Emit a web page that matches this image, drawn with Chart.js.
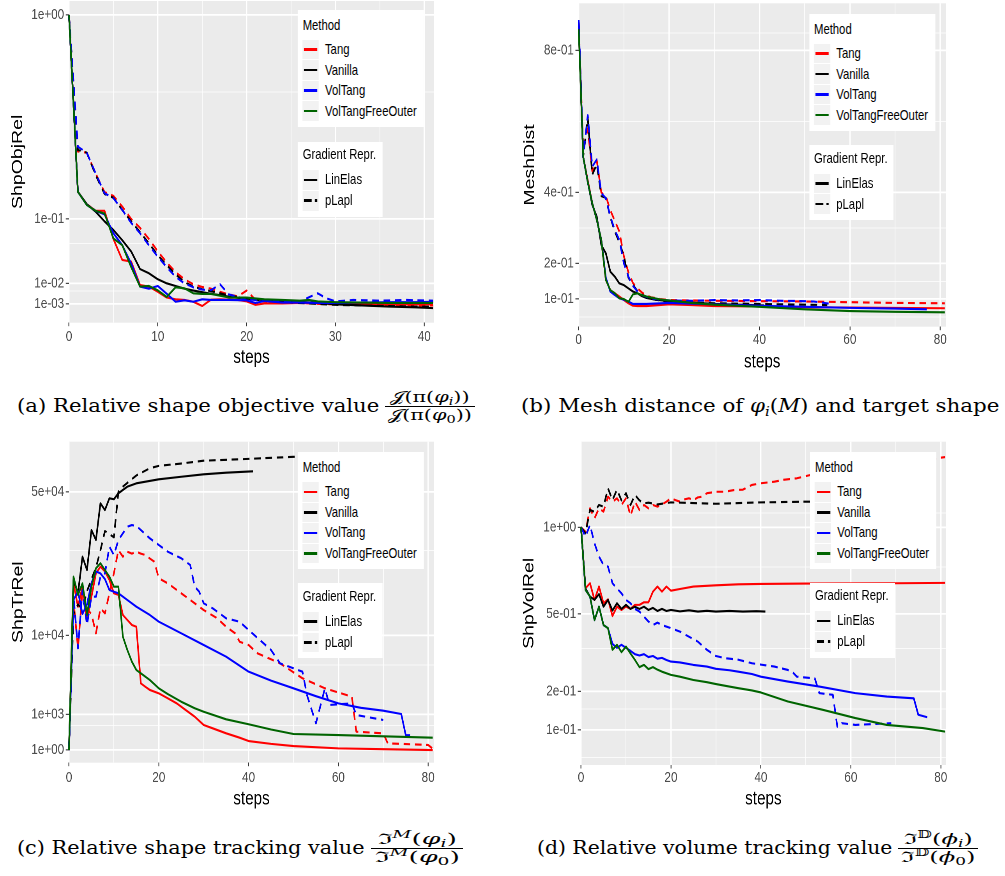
<!DOCTYPE html>
<html><head><meta charset="utf-8">
<script src="https://cdn.jsdelivr.net/npm/chart.js@4"></script>
<style>
body{margin:0;background:#fff;width:1005px;height:876px;overflow:hidden;position:relative;font-family:"Liberation Sans",Arial,sans-serif}
.panel{position:absolute;transform-origin:0 0}
.panel canvas{position:absolute;left:0;top:0}
.leg{position:absolute;background:#fff}
.lt{position:absolute;font-size:14.5px;color:#000;white-space:nowrap;line-height:17px;height:17px}
.key{position:absolute;background:#f2f2f2}
.kl{position:absolute;height:2.6px}
.cap{position:absolute;font-family:"DejaVu Serif","Liberation Serif",serif;font-size:18px;line-height:22px;white-space:nowrap;color:#000;transform-origin:0 50%}
.frac{position:absolute;font-family:"DejaVu Serif","Liberation Serif",serif;text-align:center;font-size:14.5px;line-height:17px;white-space:nowrap;transform-origin:0 50%}
.frac .n{display:block;border-bottom:1px solid #000;padding:0 2px}
.frac .d{display:block;padding:0 2px}
sub{font-size:70%;vertical-align:-0.3em;line-height:0}
sup{font-size:70%;vertical-align:0.55em;line-height:0}
</style></head><body>
<div class="cap" data-w="362" style="left:17px;top:395px">(a) Relative shape objective value</div>
<div class="frac" data-w="90" style="left:385px;top:388.5px"><span class="n">𝒥(π(<i>φ</i><sub><i>i</i></sub>))</span><span class="d">𝒥(π(<i>φ</i><sub>0</sub>))</span></div>
<div class="cap" data-w="479" style="left:521px;top:395px">(b) Mesh distance of <i>φ</i><sub><i>i</i></sub>(<i>M</i>) and target shape</div>
<div class="cap" data-w="348" style="left:17px;top:837px">(c) Relative shape tracking value</div>
<div class="frac" data-w="92" style="left:371px;top:830.5px"><span class="n">ℑ<sup><i>M</i></sup>(<i>φ</i><sub><i>i</i></sub>)</span><span class="d">ℑ<sup><i>M</i></sup>(<i>φ</i><sub>0</sub>)</span></div>
<div class="cap" data-w="355" style="left:537px;top:837px">(d) Relative volume tracking value</div>
<div class="frac" data-w="80" style="left:898px;top:830.5px"><span class="n">ℑ<sup>𝔻</sup>(<i>ϕ</i><sub><i>i</i></sub>)</span><span class="d">ℑ<sup>𝔻</sup>(<i>ϕ</i><sub>0</sub>)</span></div>
<script>
// ---------- categories ----------
const methods = ['Tang','Vanilla','VolTang','VolTangFreeOuter'];
const methodColors = ['#FF0000','#000000','#0000FF','#006400'];
const reprs = ['LinElas','pLapl'];

// ---------- Panel (a): ShpObjRel ----------
const obj_tang_lin = [[0,1],[1,.166],[2,.134],[3,.118],[4,.118],[5,.062],[6,.032],[7,.030],[8,.009],[9,.008],[10,.0052],[11,.0028],[12,.0022],[13,.0020],[14,.0015],[15,.0006],[16,.0021],[17,.0022],[18,.0021],[19,.0020],[20,.0016],[21,.0008],[22,.0011],[24,.0011],[26,.0012],[28,.0011],[30,.0010],[33,.0010],[36,.0009],[39,.0009],[41,.0009]];
const obj_van_lin = [[0,1],[1,.166],[2,.134],[3,.116],[4,.095],[5,.078],[6,.060],[7,.043],[8,.022],[9,.018],[10,.013],[11,.0101],[12,.0084],[13,.0068],[14,.0058],[15,.0050],[16,.0043],[17,.0037],[18,.0031],[19,.0027],[20,.0024],[22,.0020],[25,.0016],[28,.0012],[30,.0009],[33,.0007],[36,.0005],[39,.0004],[41,.0003]];
const obj_vol_lin = [[0,1],[1,.166],[2,.132],[3,.118],[4,.110],[5,.072],[6,.052],[7,.028],[8,.008],[9,.0068],[10,.0084],[11,.0043],[12,.0015],[13,.0019],[14,.0015],[15,.0022],[16,.0020],[18,.0020],[20,.0019],[21,.0012],[22,.0017],[24,.0013],[26,.0013],[28,.0012],[30,.0012],[33,.0013],[36,.0014],[39,.0014],[41,.0015]];
const obj_free_lin = [[0,1],[1,.166],[2,.132],[3,.118],[4,.112],[5,.063],[6,.052],[7,.024],[8,.008],[9,.0084],[10,.0059],[11,.0030],[12,.0076],[13,.0070],[14,.0045],[15,.0042],[16,.0042],[17,.0035],[18,.0028],[20,.0028],[22,.0022],[24,.0020],[26,.0018],[27,.0020],[28,.0016],[30,.0014],[33,.0013],[36,.0012],[39,.0012],[41,.0012]];
const obj_tang_pl = [[0,1],[1,.294],[2,.29],[3,.22],[4,.165],[5,.155],[6,.128],[7,.10],[8,.082],[9,.062],[10,.043],[11,.029],[12,.019],[13,.013],[14,.0095],[15,.0078],[16,.0068],[17,.0052],[18,.0040],[19,.0032],[20,.0058],[21,.0020],[22,.0016],[25,.0014],[28,.0010],[30,.0009],[33,.0008],[36,.0008],[39,.0007],[41,.0007]];
const obj_van_pl = [[0,1],[1,.30],[2,.29],[3,.215],[4,.16],[5,.15],[6,.12],[7,.095],[8,.074],[9,.055],[10,.038],[11,.026],[12,.017],[13,.011],[14,.008],[15,.0065],[16,.0055],[17,.0045],[18,.0035],[20,.0025],[22,.0018],[25,.0013],[28,.0010],[30,.0008],[33,.0007],[36,.0006],[39,.0005],[41,.0005]];
const obj_vol_pl = [[0,1],[1,.312],[2,.29],[3,.22],[4,.162],[5,.149],[6,.12],[7,.092],[8,.072],[9,.052],[10,.036],[11,.024],[12,.015],[13,.010],[14,.0076],[15,.0063],[16,.006],[17,.0095],[18,.0040],[19,.0030],[20,.0022],[21,.0020],[22,.0018],[24,.0018],[26,.0016],[28,.0045],[29,.0025],[30,.0016],[32,.0020],[35,.0018],[38,.0020],[41,.0018]];

// ---------- Panel (b): MeshDist ----------
const mesh_tang_lin = [[0,.87],[1,.50],[2,.435],[3,.37],[4,.323],[5,.266],[6,.154],[7,.125],[8,.116],[9,.107],[10,.097],[11,.088],[12,.081],[13,.080],[15,.080],[20,.085],[25,.083],[30,.080],[40,.079],[50,.077],[60,.076],[70,.075],[81,.074]];
const mesh_van_lin = [[0,.87],[1,.50],[2,.43],[3,.365],[4,.332],[5,.252],[6,.229],[7,.177],[8,.163],[9,.144],[10,.139],[11,.130],[12,.121],[13,.116],[14,.108],[15,.103],[17,.098],[20,.094],[25,.090],[30,.086],[35,.084],[41,.082]];
const mesh_vol_lin = [[0,.88],[1,.50],[2,.43],[3,.37],[4,.323],[5,.266],[6,.16],[7,.121],[8,.111],[9,.102],[10,.098],[11,.093],[12,.086],[15,.086],[20,.089],[30,.085],[40,.081],[50,.078],[60,.075],[70,.073],[77,.071]];
const mesh_free_lin = [[0,.86],[1,.50],[2,.43],[3,.37],[4,.323],[5,.266],[6,.154],[7,.125],[8,.116],[9,.102],[10,.100],[11,.092],[12,.113],[13,.116],[14,.111],[15,.107],[16,.104],[18,.099],[20,.096],[25,.089],[30,.084],[40,.078],[50,.071],[60,.066],[70,.064],[81,.0625]];
const mesh_tang_pl = [[0,.88],[1,.52],[2,.58],[3,.46],[4,.49],[5,.40],[6,.39],[7,.35],[8,.32],[9,.29],[10,.22],[11,.175],[12,.145],[13,.13],[14,.118],[15,.11],[16,.105],[18,.10],[20,.097],[30,.095],[40,.094],[50,.093],[60,.091],[70,.089],[81,.088]];
const mesh_van_pl = [[0,.88],[1,.50],[2,.61],[3,.45],[4,.48],[5,.39],[6,.385],[7,.33],[8,.29],[9,.26],[10,.22],[11,.16],[12,.14],[13,.122],[14,.112],[15,.106],[17,.098],[20,.092],[30,.088],[40,.086],[50,.084],[55,.083]];
const mesh_vol_pl = [[0,.886],[1,.50],[2,.618],[3,.473],[4,.493],[5,.398],[6,.384],[7,.332],[8,.294],[9,.266],[10,.20],[11,.163],[12,.137],[13,.121],[14,.111],[15,.106],[16,.102],[18,.098],[20,.096],[25,.095],[30,.097],[35,.096],[40,.097],[45,.095],[50,.094],[52,.093],[56,.086]];

// ---------- Panel (c): ShpTrRel ----------
const tr_tang_lin = [[0,1],[1,20950],[2,15520],[3,20110],[4,12790],[5,17740],[6,23530],[7,25290],[8,24000],[9,21800],[10,18530],[11,18150],[12,13790],[13,12790],[14,11840],[15,11500],[16,3420],[17,3090],[18,2790],[20,2490],[22,2080],[24,1700],[26,1260],[28,885],[30,510],[32,390],[35,238],[38,136],[40,77],[45,40],[50,20],[60,6],[70,3],[81,1]];
const tr_van_lin = [[0,1],[1,21800],[2,18530],[3,28120],[4,24400],[5,36360],[6,33150],[7,45670],[8,43230],[9,47530],[10,47170],[11,49430],[12,50720],[13,52000],[15,53320],[20,54940],[25,55980],[30,56970],[35,57640],[41,58210]];
const tr_vol_lin = [[0,1],[1,17000],[2,19000],[3,14000],[4,16000],[5,21000],[6,24000],[7,23500],[8,22000],[9,19300],[10,18900],[11,18530],[13,16990],[15,15520],[18,13790],[20,12470],[25,10330],[30,8380],[35,6640],[40,4700],[45,3700],[50,2940],[55,2250],[60,1700],[65,1400],[70,1220],[74,1030],[75,195],[76,190]];
const tr_free_lin = [[0,1],[1,22630],[2,18150],[3,20950],[4,13790],[5,20110],[6,24860],[7,26240],[8,24400],[9,22630],[10,20110],[11,20110],[12,9740],[13,7600],[14,5960],[15,4900],[16,4510],[18,3770],[20,2940],[22,2430],[25,1820],[28,1370],[30,1160],[35,756],[40,540],[45,350],[50,220],[60,195],[70,165],[81,135]];
const tr_tang_pl = [[0,1],[1,17000],[2,7870],[3,19300],[4,15000],[5,14000],[6,10330],[7,15180],[8,14130],[9,18530],[10,23530],[11,30080],[12,28120],[13,29580],[14,29000],[15,29580],[16,29000],[17,28600],[18,27600],[19,26690],[20,22210],[22,20950],[25,18530],[28,16260],[30,14810],[33,13130],[35,11510],[37,10330],[38,8910],[40,8380],[42,7120],[47,5740],[52,3950],[57,2940],[63,2210],[64,283],[70,238],[71,46],[80,29],[81,5]];
const tr_van_pl = [[0,1],[1,14000],[2,16000],[3,15000],[4,19000],[5,22000],[6,25000],[7,30000],[8,36000],[9,35000],[10,34000],[11,50000],[12,52000],[13,53500],[14,55000],[15,56500],[16,57500],[18,59500],[20,60500],[25,61500],[30,62700],[40,63500],[50,64400],[55,64700]];
const tr_vol_pl = [[0,1],[1,18000],[2,7870],[3,19300],[4,11840],[5,17740],[6,17740],[7,22600],[8,23500],[9,31080],[10,28600],[11,33150],[12,35280],[13,37440],[14,38000],[15,37700],[16,36360],[18,33670],[20,31600],[22,29580],[25,27660],[27,25760],[28,20110],[29,18900],[30,16260],[32,15180],[35,13130],[38,12460],[40,10920],[45,7610],[47,5740],[52,4700],[53,2350],[55,580],[57,2940],[58,1590],[63,1700],[64,975],[70,724]];

// ---------- Panel (d): ShpVolRel ----------
const vol_tang_lin = [[0,1],[1,.631],[2,.658],[3,.57],[4,.64],[5,.553],[6,.573],[7,.491],[8,.536],[9,.52],[10,.537],[11,.525],[12,.545],[13,.545],[14,.558],[15,.558],[16,.613],[17,.64],[18,.613],[19,.64],[20,.618],[22,.627],[25,.64],[30,.647],[35,.652],[40,.654],[50,.656],[60,.657],[70,.658],[81,.66]];
const vol_van_lin = [[0,1],[1,.63],[2,.587],[3,.57],[4,.60],[5,.536],[6,.57],[7,.517],[8,.553],[9,.525],[10,.545],[11,.525],[12,.536],[13,.525],[14,.536],[15,.52],[16,.53],[17,.515],[18,.525],[19,.515],[20,.52],[22,.513],[24,.518],[26,.512],[28,.516],[30,.512],[33,.515],[36,.512],[39,.514],[41,.512]];
const vol_vol_lin = [[0,1],[1,.622],[2,.587],[3,.472],[4,.536],[5,.449],[6,.435],[7,.368],[8,.352],[9,.364],[10,.352],[11,.34],[12,.327],[13,.322],[14,.327],[15,.316],[16,.32],[17,.31],[18,.313],[19,.305],[20,.299],[22,.296],[25,.287],[28,.281],[30,.273],[33,.268],[35,.263],[38,.255],[40,.246],[46,.23],[53,.214],[61,.194],[68,.184],[74,.179],[75,.135],[77,.129]];
const vol_free_lin = [[0,1],[1,.622],[2,.587],[3,.472],[4,.536],[5,.449],[6,.435],[7,.344],[8,.364],[9,.335],[10,.357],[11,.33],[12,.305],[13,.279],[14,.287],[15,.272],[16,.279],[17,.27],[18,.263],[20,.252],[22,.246],[25,.235],[28,.228],[30,.222],[33,.214],[35,.209],[38,.202],[40,.196],[46,.17],[54,.147],[61,.127],[68,.111],[76,.104],[81,.0965]];
const vol_tang_pl = [[0,1],[1,.97],[2,1.132],[3,1.061],[4,1.132],[5,1.108],[6,1.217],[7,1.18],[8,1.205],[9,1.156],[10,1.205],[11,1.078],[12,1.18],[13,1.12],[14,1.156],[15,1.132],[16,1.156],[17,1.144],[18,1.16],[19,1.18],[20,1.205],[21,1.192],[22,1.18],[23,1.197],[24,1.205],[25,1.192],[26,1.212],[27,1.217],[28,1.243],[29,1.248],[30,1.254],[32,1.254],[34,1.267],[36,1.27],[38,1.306],[40,1.319],[43,1.331],[45,1.346],[48,1.358],[51,1.384],[60,1.43],[70,1.48],[79,1.52],[81,1.53]];
const vol_van_pl = [[0,1],[1,.96],[2,1.12],[3,1.108],[4,1.156],[5,1.144],[6,1.28],[7,1.192],[8,1.27],[9,1.19],[10,1.243],[11,1.156],[12,1.23],[13,1.19],[14,1.168],[15,1.173],[17,1.16],[20,1.175],[25,1.17],[30,1.165],[40,1.175],[50,1.18],[52,1.18]];
const vol_vol_pl = [[0,1],[1,.938],[2,1.016],[3,.895],[4,.812],[5,.762],[6,.752],[7,.658],[8,.63],[9,.604],[10,.57],[11,.553],[12,.525],[13,.512],[14,.488],[15,.465],[16,.449],[17,.46],[18,.449],[20,.435],[22,.42],[24,.398],[26,.377],[28,.344],[30,.32],[32,.312],[35,.306],[38,.293],[40,.288],[43,.281],[46,.269],[47,.262],[48,.246],[52,.240],[53,.194],[56,.189],[57,.107],[58,.115],[61,.111],[65,.113],[69,.115]];

// ---------- tick labels ----------
const ticksObjY = [[1,'1e+00'],[0.1,'1e-01'],[0.01,'1e-02'],[0.001,'1e-03']];
const minorObjY = [0.55,0.055,0.0055];
const ticksMeshY = [[0.8,'8e-01'],[0.4,'4e-01'],[0.2,'2e-01'],[0.1,'1e-01']];
const minorMeshY = [0.05,0.15,0.3,0.6,0.85];
const ticksTrY = [[50000,'5e+04'],[10000,'1e+04'],[1000,'1e+03'],[1,'1e+00']];
const minorTrY = [500.5,5500,30000];
const ticksVolY = [[1,'1e+00'],[0.5,'5e-01'],[0.2,'2e-01'],[0.1,'1e-01']];
const minorVolY = [0.05,0.15,0.35,0.75,1.1];
const ticksX41 = [[0,'0'],[10,'10'],[20,'20'],[30,'30'],[40,'40']];
const minorX41 = [5,15,25,35];
const ticksX81 = [[0,'0'],[20,'20'],[40,'40'],[60,'60'],[80,'80']];
const minorX81 = [10,30,50,70];

// ---------- fit caption widths ----------
document.querySelectorAll('[data-w]').forEach(el => {
  const w = el.offsetWidth;
  el.style.transform = `scaleX(${(+el.dataset.w)/w})`;
});

// ---------- custom scale: linear or sqrt transform ----------
class TScale extends Chart.LinearScale {
  static id = 'tscale';
  static defaults = {};
  tf(v){ return this.options.sqrtT ? Math.sqrt(Math.max(v,0)) : v; }
  determineDataLimits(){ this.min = this.options.tmin; this.max = this.options.tmax; }
  buildTicks(){
    const o = this.options;
    return o.majorList.map(t => ({value:t[0], txt:t[1], minor:false}))
      .concat(o.minorList.map(v => ({value:v, txt:'', minor:true})));
  }
  getPixelForValue(v){ return (v === null || v === undefined) ? NaN : super.getPixelForValue(this.tf(v)); }
  getValueForPixel(p){ const t = super.getValueForPixel(p); return this.options.sqrtT ? t*t : t; }
}
Chart.register(TScale);

const FAM = '"Liberation Sans", Arial, sans-serif';
const bgPlugin = {
  id:'panelbg',
  beforeDraw(chart){
    const a = chart.chartArea, c = chart.ctx;
    c.save(); c.fillStyle = '#EBEBEB'; c.fillRect(a.left, a.top, a.right-a.left, a.bottom-a.top); c.restore();
  }
};

function gridOpts(tl){
  return {
    color:'#FFFFFF',
    lineWidth: ctx => (ctx.tick && ctx.tick.minor) ? 0.8 : 1.7,
    drawTicks:true, tickLength:tl,
    tickColor: ctx => (ctx.tick && ctx.tick.minor) ? 'rgba(0,0,0,0)' : '#333333',
    tickWidth: 1.1
  };
}

function addLegend(div, x, y, gy){
  const m = document.createElement('div');
  m.className='leg'; Object.assign(m.style,{left:x+'px',top:y+'px',width:'162px',height:'117px'});
  let h = `<div class="lt" style="left:6.4px;top:${15-8.5}px">Method</div>`;
  methods.forEach((name,i)=>{
    const cy = 39.7 + 20.5*i;
    h += `<div class="key" style="left:6.4px;top:${cy-9.8}px;width:21px;height:19.6px"></div>`;
    h += `<div class="kl" style="left:8.5px;top:${cy-1.3}px;width:17px;background:${methodColors[i]}"></div>`;
    h += `<div class="lt" style="left:35px;top:${cy-8.5}px">${name}</div>`;
  });
  m.innerHTML = h; div.appendChild(m);
  const g = document.createElement('div');
  g.className='leg'; Object.assign(g.style,{left:x+'px',top:gy+'px',width:'108.6px',height:'75px'});
  let k = `<div class="lt" style="left:6.4px;top:${13.3-8.5}px">Gradient Repr.</div>`;
  reprs.forEach((name,i)=>{
    const cy = 38.3 + 20.8*i;
    k += `<div class="key" style="left:6.4px;top:${cy-9.8}px;width:21px;height:19.6px"></div>`;
    if (i===0) k += `<div class="kl" style="left:8.5px;top:${cy-1.3}px;width:17px;background:#000"></div>`;
    else k += `<div class="kl" style="left:8.5px;top:${cy-1.3}px;width:9.5px;background:#000"></div><div class="kl" style="left:22.5px;top:${cy-1.3}px;width:3px;background:#000"></div>`;
    k += `<div class="lt" style="left:35px;top:${cy-8.5}px">${name}</div>`;
  });
  g.innerHTML = k; div.appendChild(g);
}

function buildPanel(cfg){
  const W = Math.round(cfg.box[2]/0.78), H = cfg.box[3];
  const S = cfg.box[2]/W;
  const div = document.createElement('div');
  div.className='panel';
  Object.assign(div.style,{left:cfg.box[0]+'px',top:cfg.box[1]+'px',width:W+'px',height:H+'px',transform:`scaleX(${S})`});
  document.body.appendChild(div);
  const cv = document.createElement('canvas');
  cv.width = W; cv.height = H;
  div.appendChild(cv);
  const aL = (cfg.area[0]-cfg.box[0])/S, aR = (cfg.area[1]-cfg.box[0])/S;
  const aT = cfg.area[2]-cfg.box[1], aB = cfg.area[3]-cfg.box[1];
  const datasets = cfg.series.map(s => ({
    data: s[0].map(p => ({x:p[0], y:p[1]})),
    borderColor: methodColors[s[1]],
    borderWidth: 2.1,
    borderDash: s[2] ? [8.5,6] : [],
    pointRadius:0, pointHoverRadius:0, fill:false, tension:0,
    borderJoinStyle:'round'
  }));
  new Chart(cv, {
    type:'line',
    data:{datasets},
    plugins:[bgPlugin],
    options:{
      responsive:false, animation:false, devicePixelRatio:2,
      layout:{padding:{left:0, top:aT, right:W-aR, bottom:0}},
      plugins:{legend:{display:false}, tooltip:{enabled:false}},
      scales:{
        x:{
          type:'tscale', position:'bottom', sqrtT:false, tmin:0, tmax:cfg.xmax,
          majorList:cfg.xt, minorList:cfg.xm,
          grid:gridOpts(3.5), border:{display:false},
          ticks:{autoSkip:false, maxRotation:0, padding:cfg.xpad, color:'#4D4D4D', font:{family:FAM,size:15},
            callback:(v,i,t)=>t[i].txt},
          title:{display:true, text:'steps', color:'#000', font:{family:FAM,size:19.5}, padding:{top:0,bottom:cfg.xtp}},
          afterFit:(sc)=>{ sc.height = H - aB; sc.paddingLeft=0; sc.paddingRight=0; }
        },
        y:{
          type:'tscale', position:'left', sqrtT:cfg.sqrt, tmin:cfg.ymin, tmax:cfg.ymax,
          majorList:cfg.yt, minorList:cfg.ym,
          grid:gridOpts(4.2), border:{display:false},
          ticks:{autoSkip:false, padding:2, color:'#4D4D4D', font:{family:FAM,size:15},
            callback:(v,i,t)=>t[i].txt},
          title:{display:true, text:cfg.ytitle, color:'#000', font:{family:FAM,size:19.5}, padding:{top:cfg.ytp,bottom:0}},
          afterFit:(sc)=>{ sc.width = aL; sc.paddingTop=0; sc.paddingBottom=0; }
        }
      }
    }
  });
  addLegend(div, (cfg.leg[0]-cfg.box[0])/S, cfg.leg[1]-cfg.box[1], cfg.leg[2]-cfg.box[1]);
}

function seriesList(tl,tp,vl,vp,ol,op,fl){
  return [[fl,3,false],[op,2,true],[ol,2,false],[vp,1,true],[vl,1,false],[tp,0,true],[tl,0,false]];
}

buildPanel({box:[0,0,445,372], area:[69,434,1,322.7], xmax:41.1, xt:ticksX41, xm:minorX41,
  sqrt:true, ymin:-0.0315, ymax:1.047, yt:ticksObjY, ym:minorObjY, ytitle:'ShpObjRel', ytp:11.4, xtp:2.6, xpad:1.6,
  leg:[297.7,10,141.7],
  series:seriesList(obj_tang_lin,obj_tang_pl,obj_van_lin,obj_van_pl,obj_vol_lin,obj_vol_pl,obj_free_lin)});
buildPanel({box:[505,0,500,374], area:[578.7,945.7,3.3,326.7], xmax:81.2, xt:ticksX81, xm:minorX81,
  sqrt:false, ymin:0.022, ymax:0.933, yt:ticksMeshY, ym:minorMeshY, ytitle:'MeshDist', ytp:20.4, xtp:0, xpad:0.6,
  leg:[809,14,145],
  series:seriesList(mesh_tang_lin,mesh_tang_pl,mesh_van_lin,mesh_van_pl,mesh_vol_lin,mesh_vol_pl,mesh_free_lin)});
buildPanel({box:[0,440,445,372], area:[69,434,441.7,762.7], xmax:81.3, xt:ticksX81, xm:minorX81,
  sqrt:true, ymin:-9.9, ymax:266.8, yt:ticksTrY, ym:minorTrY, ytitle:'ShpTrRel', ytp:11.8, xtp:1, xpad:2.6,
  leg:[297.7,452.3,583.3],
  series:seriesList(tr_tang_lin,tr_tang_pl,tr_van_lin,tr_van_pl,tr_vol_lin,tr_vol_pl,tr_free_lin)});
buildPanel({box:[505,440,500,372], area:[581,945.7,441.7,765], xmax:81.1, xt:ticksX81, xm:minorX81,
  sqrt:true, ymin:0.198, ymax:1.2887, yt:ticksVolY, ym:minorVolY, ytitle:'ShpVolRel', ytp:19.5, xtp:1, xpad:0.3,
  leg:[810,452.3,582.7],
  series:seriesList(vol_tang_lin,vol_tang_pl,vol_van_lin,vol_van_pl,vol_vol_lin,vol_vol_pl,vol_free_lin)});
</script>
</body></html>
